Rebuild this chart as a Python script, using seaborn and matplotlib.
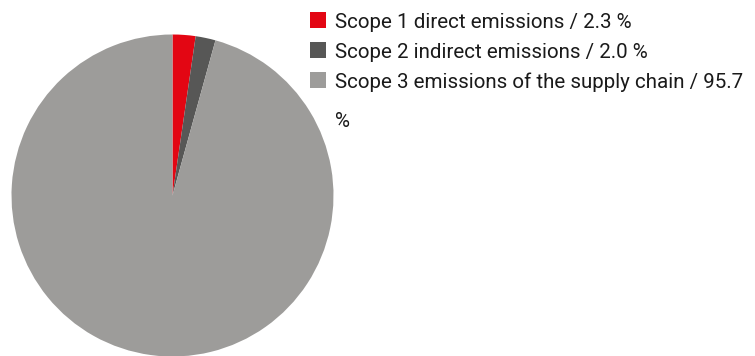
import matplotlib
matplotlib.use("Agg")
import matplotlib.pyplot as plt
from matplotlib.patches import Rectangle
import seaborn as sns

labels = ["Scope 1 direct emissions", "Scope 2 indirect emissions",
          "Scope 3 emissions of the supply chain"]
shares = [2.3, 2.0, 95.7]
colors = ["#e30613", "#575756", "#9d9c9a"]

sns.set_theme(style="white")
plt.rcParams["font.family"] = ["Roboto", "DejaVu Sans"]

W, H = 755, 356
fig = plt.figure(figsize=(W / 100, H / 100), dpi=100)

# Pie axes placed in pixel terms
cx, cy, r = 172.5, 195.5, 161
ax = fig.add_axes([(cx - r) / W, (H - cy - r) / H, 2 * r / W, 2 * r / H])
ax.pie(shares, colors=colors, startangle=90, counterclock=False,
       radius=1, wedgeprops=dict(linewidth=0))
ax.set_xlim(-1, 1)
ax.set_ylim(-1, 1)
ax.set_axis_off()

# Legend: square swatch + label per series (pixel rows, baseline-aligned)
row_top = [12, 42, 72]
for lab, val, col, top in zip(labels, shares, colors, row_top):
    fig.patches.append(Rectangle((310 / W, (H - top - 16) / H), 16 / W, 16 / H,
                                 transform=fig.transFigure, facecolor=col,
                                 edgecolor="none"))
    text = f"{lab} / {val:.1f}"
    if val < 90:
        text += " %"
    fig.text(335 / W, (H - top - 15.5) / H, text, fontsize=14.8,
             color="#1a1a1a", va="baseline", ha="left")
fig.text(335 / W, (H - 127) / H, "%", fontsize=14.8, color="#1a1a1a",
         va="baseline", ha="left")

fig.savefig("out.png", dpi=100)
